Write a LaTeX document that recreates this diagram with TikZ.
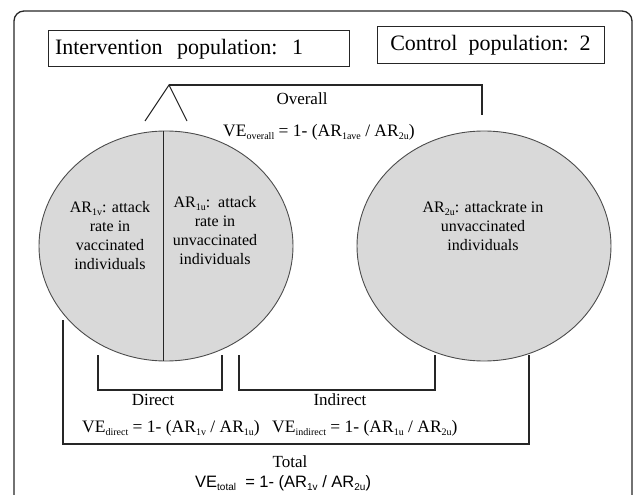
\documentclass[tikz,border=0pt]{standalone}
\usepackage{fontspec}
\setmainfont{Liberation Serif}
\newfontfamily\arialfont{Liberation Sans}
\usetikzlibrary{shapes.geometric}
\newcommand\sbs[1]{\raisebox{-0.35ex}{\fontsize{10}{10}\selectfont #1}}
\begin{document}
\begin{tikzpicture}[x=1pt,y=-1pt,
  line/.style={draw=black!85, line width=1.1pt},
  frame/.style={draw=black!85, line width=1.3pt, rounded corners=10pt},
  popbox/.style={draw=black!85, line width=1pt, inner sep=0pt, font=\fontsize{22}{26}\selectfont},
  popcircle/.style={ellipse, draw=black!70, line width=0.9pt, fill=black!15, minimum width=254pt, minimum height=230pt, inner sep=0pt},
  ctext/.style={align=center, font=\fontsize{16}{19}\selectfont, inner sep=0pt},
  lab/.style={font=\fontsize{17}{20}\selectfont, inner sep=0pt},
  formula/.style={font=\fontsize{17.5}{20}\selectfont, inner sep=0pt, anchor=west},
]
\useasboundingbox (0,0) rectangle (635,495);
% outer frame
\draw[frame] (14,510) -- (14,11) -- (632,11) -- (632,510);
% population boxes
\node[popbox, minimum width=301pt, minimum height=36pt, text width=287pt, align=left] (intervention) at (198.5,49) {Intervention\ \ population:\ \ 1};
\node[popbox, minimum width=227pt, minimum height=37pt] (control) at (490.5,45.5) {Control\ \ population:\ \ 2};
% circles
\node[popcircle] (c1) at (166,246) {};
\node[popcircle] (c2) at (484,246) {};
\draw[line, line width=1pt] ([xshift=-3pt]c1.north) -- ([xshift=-3pt]c1.south);
% circle texts
\node[ctext] (t1v) at (110,235.5) {AR\sbs{1v}: attack\\rate in\\vaccinated\\individuals};
\node[ctext] (t1u) at (215,230.5) {AR\sbs{1u}:\ \ attack\\rate in\\unvaccinated\\individuals};
\node[ctext] (t2u) at (483,226) {AR\sbs{2u}: attackrate in\\unvaccinated\\individuals};
% overall bracket
\coordinate (apex) at (169,85);
\coordinate (tl) at (145,121);
\coordinate (tr) at (187,121);
\coordinate (ovr) at (482,85);
\coordinate (ovrb) at (482,115);
\draw[line] (tl) -- (apex) -- (tr);
\draw[line] (apex) -- (ovr) -- (ovrb);
\node[lab] (overall) at (302,99) {Overall};
\node[formula] (veo) at (223,132) {VE\sbs{overall} = 1- (AR\sbs{1ave} / AR\sbs{2u})};
% direct bracket
\coordinate (d1) at (98,355);
\coordinate (d2) at (222,355);
\draw[line] (d1) -- (d1 |- 0,390) -- (d2 |- 0,390) -- (d2);
% indirect bracket
\coordinate (i1) at (239,355);
\coordinate (i2) at (435,355);
\draw[line] (i1) -- (i1 |- 0,390) -- (i2 |- 0,390) -- (i2);
% total bracket
\coordinate (tot1) at (63,320);
\coordinate (tot2) at (529,355);
\draw[line] (tot1) -- (tot1 |- 0,444) -- (tot2 |- 0,444) -- (tot2);
% labels
\node[lab] (direct) at (153,400) {Direct};
\node[lab] (indirect) at (340,400) {Indirect};
\node[formula] (ved) at (82,428) {VE\sbs{direct} = 1- (AR\sbs{1v} / AR\sbs{1u})};
\node[formula] (vei) at (272,428) {VE\sbs{indirect} = 1- (AR\sbs{1u} / AR\sbs{2u})};
\node[lab] (total) at (290,462) {Total};
\node[formula, font=\arialfont\fontsize{16.5}{20}\selectfont] (vet) at (195,483) {VE\sbs{total}\ \ = 1- (AR\sbs{1v} / AR\sbs{2u})};
\end{tikzpicture}
\end{document}
